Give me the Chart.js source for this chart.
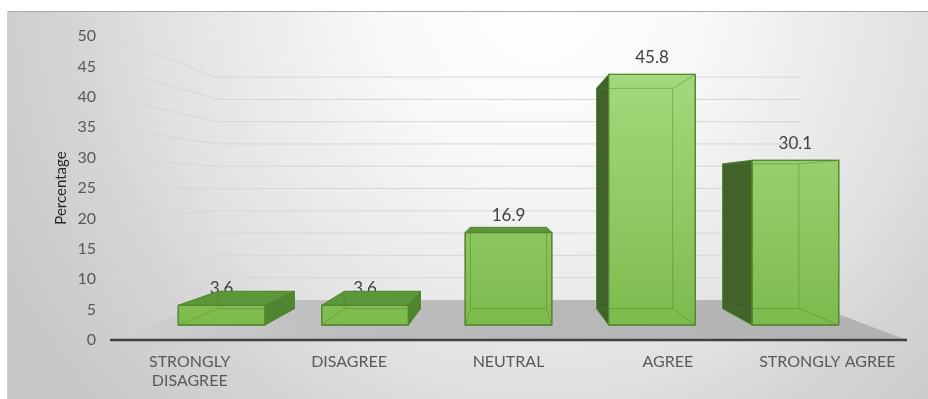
<!DOCTYPE html>
<html>
<head>
<meta charset="utf-8">
<script src="https://cdn.jsdelivr.net/npm/chart.js@4/dist/chart.umd.min.js"></script>
<style>
  html, body { margin: 0; padding: 0; background: #fff; }
  canvas { display: block; }
</style>
</head>
<body>
<canvas id="myChart" width="928" height="399"></canvas>
<script>
// survey answers and their share in percent
const categories = [["STRONGLY", "DISAGREE"], "DISAGREE", "NEUTRAL", "AGREE", "STRONGLY AGREE"];
const percentages = [3.6, 3.6, 16.9, 45.8, 30.1];
const axisMin = 0;
const axisMax = 50;
const axisStep = 5;

const FONT = "Lato";

// fake perspective: everything shrinks toward a vanishing point above the floor
const HORIZON = 150;     // vanishing point height above the floor line
const BAR_PLANE = 0.9;   // front faces of the bars
const BAR_DEPTH = 0.879; // back faces, relative to the front faces
const WALL_PLANE = 0.733;

function vanish(chart) {
  let a = chart.chartArea;
  return { x: (a.left + a.right) / 2, y: a.bottom - HORIZON };
}

function project(vp, p, s) {
  return { x: vp.x + s * (p.x - vp.x), y: vp.y + s * (p.y - vp.y) };
}

function poly(ctx, pts, fill, stroke, lw) {
  ctx.beginPath();
  ctx.moveTo(pts[0].x, pts[0].y);
  for (let i = 1; i < pts.length; i++) ctx.lineTo(pts[i].x, pts[i].y);
  ctx.closePath();
  if (fill) { ctx.fillStyle = fill; ctx.fill(); }
  if (stroke) { ctx.strokeStyle = stroke; ctx.lineWidth = lw || 1; ctx.stroke(); }
}

function line(ctx, a, b, color, lw) {
  ctx.beginPath();
  ctx.moveTo(a.x, a.y);
  ctx.lineTo(b.x, b.y);
  ctx.strokeStyle = color;
  ctx.lineWidth = lw || 1;
  ctx.stroke();
}

const scene3d = {
  id: "scene3d",

  beforeDraw(chart) {
    let ctx = chart.ctx;
    ctx.save();
    ctx.fillStyle = "#ffffff";
    ctx.fillRect(0, 0, chart.width, chart.height);
    let g = ctx.createRadialGradient(540, 0, 0, 540, 0, 620);
    g.addColorStop(0, "#ffffff");
    g.addColorStop(0.25, "#f9f9f9");
    g.addColorStop(0.62, "#e1e1e1");
    g.addColorStop(0.75, "#d5d5d5");
    g.addColorStop(1, "#c6c6c6");
    ctx.fillStyle = g;
    ctx.fillRect(7, 11, chart.width - 7, chart.height - 11);
    line(ctx, { x: 7, y: 11.5 }, { x: chart.width, y: 11.5 }, "#a9a9a9", 1);
    line(ctx, { x: 7.5, y: 11 }, { x: 7.5, y: chart.height }, "#cfcfcf", 1);
    ctx.restore();
  },

  beforeDatasetsDraw(chart) {
    let ctx = chart.ctx;
    let a = chart.chartArea;
    let yScale = chart.scales.y;
    let vp = vanish(chart);
    ctx.save();

    // side wall + back wall gridlines
    yScale.ticks.forEach(t => {
      if (t.value === axisMin) return;
      let yf = yScale.getPixelForValue(t.value);
      let p0 = { x: a.left, y: yf };
      let p1 = project(vp, p0, WALL_PLANE);
      let p2 = project(vp, { x: a.right, y: yf }, WALL_PLANE);
      ctx.beginPath();
      ctx.moveTo(p0.x, p0.y);
      ctx.lineTo(p1.x, p1.y);
      ctx.lineTo(p2.x, p2.y);
      ctx.strokeStyle = "#d6d6d6";
      ctx.lineWidth = 1;
      ctx.stroke();
    });

    // floor
    let fl = { x: a.left, y: a.bottom };
    let fr = { x: a.right, y: a.bottom };
    let floorG = ctx.createLinearGradient(a.left, 0, a.right, 0);
    floorG.addColorStop(0, "#d2d2d2");
    floorG.addColorStop(0.3, "#bdbdbd");
    floorG.addColorStop(1, "#b1b1b1");
    poly(ctx, [fl, project(vp, fl, WALL_PLANE), project(vp, fr, WALL_PLANE), fr], floorG);

    // category axis line
    line(ctx, fl, fr, "#404040", 2.5);
    ctx.restore();
  },

  afterDatasetsDraw(chart) {
    let ctx = chart.ctx;
    let a = chart.chartArea;
    let vp = vanish(chart);
    let meta = chart.getDatasetMeta(0);
    ctx.save();

    let boxes = meta.data.map((el, i) => {
      let p = el.getProps(["x", "y", "base", "width"], true);
      let tl = project(vp, { x: p.x - p.width / 2, y: p.y }, BAR_PLANE);
      let br = project(vp, { x: p.x + p.width / 2, y: p.base }, BAR_PLANE);
      let F = { x0: tl.x, x1: br.x, yt: tl.y, yb: br.y };
      let b0 = project(vp, { x: F.x0, y: F.yt }, BAR_DEPTH);
      let b1 = project(vp, { x: F.x1, y: F.yb }, BAR_DEPTH);
      let B = { x0: b0.x, x1: b1.x, yt: b0.y, yb: b1.y };
      return { F, B, value: percentages[i] };
    });

    // value labels go first so a flat bar's top can cover them
    ctx.font = "17px " + FONT;
    ctx.fillStyle = "#404040";
    ctx.textAlign = "center";
    ctx.textBaseline = "middle";
    boxes.forEach(b => {
      ctx.fillText(b.value.toFixed(1), (b.F.x0 + b.F.x1) / 2, b.F.yt - 17);
    });

    let edge = "#578731";
    let front = ctx.createLinearGradient(0, a.top, 0, a.bottom);
    front.addColorStop(0, "#a9de84");
    front.addColorStop(1, "#7bb94b");

    boxes.forEach(({ F, B }) => {
      let f = {
        tl: { x: F.x0, y: F.yt }, tr: { x: F.x1, y: F.yt },
        bl: { x: F.x0, y: F.yb }, br: { x: F.x1, y: F.yb }
      };
      let k = {
        tl: { x: B.x0, y: B.yt }, tr: { x: B.x1, y: B.yt },
        bl: { x: B.x0, y: B.yb }, br: { x: B.x1, y: B.yb }
      };
      // side faces that turn toward the viewer
      if (F.x1 < vp.x) poly(ctx, [f.tr, k.tr, k.br, f.br], "#4f8530", edge);
      if (F.x0 > vp.x) poly(ctx, [f.tl, k.tl, k.bl, f.bl], "#41632a", edge);
      if (F.yt > vp.y) poly(ctx, [f.tl, f.tr, k.tr, k.tl], "#5c9739", edge);

      poly(ctx, [f.tl, f.tr, f.br, f.bl], front, edge);

      // hidden back edges showing through the front face
      let faint = "rgba(80, 130, 45, 0.45)";
      line(ctx, k.tl, k.tr, faint);
      line(ctx, k.tr, k.br, faint);
      line(ctx, k.br, k.bl, faint);
      line(ctx, k.bl, k.tl, faint);
      ["tl", "tr", "bl", "br"].forEach(c => line(ctx, f[c], k[c], faint));
      poly(ctx, [f.tl, f.tr, f.br, f.bl], null, edge, 1.3);
    });
    ctx.restore();
  }
};

let ctx = document.getElementById("myChart").getContext("2d");

new Chart(ctx, {
  type: "bar",
  data: {
    labels: categories,
    datasets: [
      {
        label: "Percentage",
        data: percentages,
        backgroundColor: "rgba(0,0,0,0)",
        borderWidth: 0,
        categoryPercentage: 0.604,
        barPercentage: 1
      }
    ]
  },
  options: {
    responsive: false,
    animation: false,
    layout: { padding: { left: 50, top: 36, right: 21, bottom: 0 } },
    plugins: {
      legend: { display: false },
      tooltip: { enabled: false }
    },
    scales: {
      x: {
        grid: { display: false, drawTicks: false },
        border: { display: false },
        ticks: {
          color: "#595959",
          font: { family: FONT, size: 16, lineHeight: 1.2 },
          padding: 12,
          maxRotation: 0,
          autoSkip: false
        },
        afterFit: s => { s.height = 59; }
      },
      y: {
        min: axisMin,
        max: axisMax,
        grid: { display: false, drawTicks: false },
        border: { display: false },
        ticks: {
          stepSize: axisStep,
          color: "#595959",
          font: { family: FONT, size: 16 },
          padding: 14
        },
        title: {
          display: true,
          text: "Percentage",
          color: "#262626",
          font: { family: FONT, size: 15 },
          padding: { top: 2, bottom: 0 }
        },
        afterFit: s => { s.width = 60; }
      }
    }
  },
  plugins: [scene3d]
});
</script>
</body>
</html>
